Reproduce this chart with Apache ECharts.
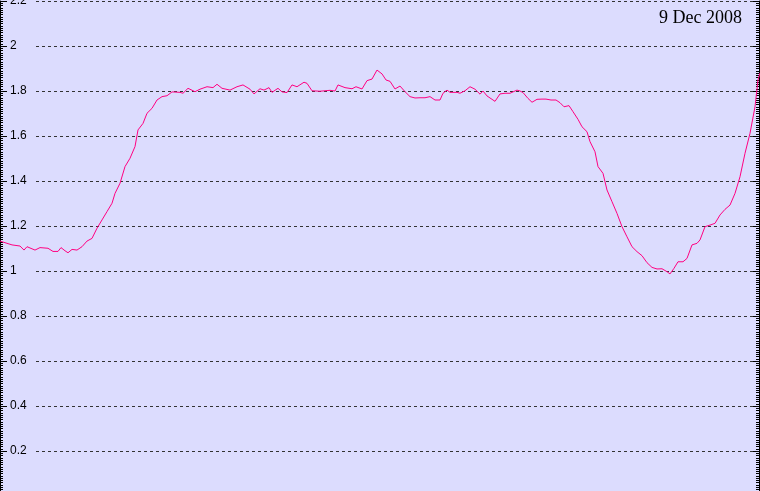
<!DOCTYPE html>
<html>
<head>
<meta charset="utf-8">
<script src="https://cdn.jsdelivr.net/npm/echarts@6/dist/echarts.min.js"></script>
<style>
html,body{margin:0;padding:0;overflow:hidden;background:#dcdcfe;}
#chart{width:760px;height:500px;}
</style>
</head>
<body>
<div id="chart"></div>
<script>
// sample index (time steps)
var times = [0,7,12,20,24,27,35,40,48,53,58,61,65,68,72,77,82,87,92,97,102,107,112,115,120,125,130,135,138,143,147,152,157,162,167,172,180,183,188,195,200,207,213,217,222,230,237,243,250,254,260,264,269,272,278,282,287,292,297,304,307,312,320,330,335,338,345,352,356,362,367,372,377,382,386,390,395,400,405,410,415,420,425,430,435,440,443,447,450,457,460,465,470,475,480,483,487,492,495,500,505,510,517,520,523,528,532,537,542,546,551,556,560,564,569,573,578,582,587,590,595,598,603,607,612,617,622,627,632,637,642,647,652,657,662,667,670,674,678,683,687,692,697,700,705,710,715,720,725,730,735,740,745,750,755,758,760];
var values = [1.133,1.123,1.116,1.111,1.093,1.108,1.093,1.104,1.101,1.087,1.087,1.104,1.090,1.081,1.096,1.093,1.108,1.133,1.145,1.190,1.227,1.264,1.301,1.345,1.390,1.464,1.501,1.553,1.627,1.656,1.701,1.723,1.760,1.775,1.779,1.796,1.794,1.790,1.812,1.797,1.808,1.819,1.815,1.830,1.812,1.804,1.819,1.827,1.808,1.787,1.810,1.804,1.815,1.794,1.812,1.796,1.793,1.827,1.819,1.839,1.834,1.801,1.799,1.803,1.800,1.827,1.815,1.810,1.819,1.809,1.846,1.853,1.893,1.876,1.849,1.843,1.809,1.822,1.797,1.775,1.769,1.770,1.770,1.775,1.760,1.760,1.790,1.804,1.794,1.794,1.790,1.801,1.819,1.808,1.786,1.800,1.778,1.763,1.754,1.787,1.790,1.790,1.804,1.800,1.793,1.767,1.750,1.763,1.764,1.764,1.760,1.760,1.748,1.730,1.735,1.708,1.674,1.641,1.619,1.575,1.530,1.464,1.434,1.360,1.308,1.256,1.197,1.152,1.108,1.086,1.068,1.037,1.016,1.009,1.010,0.997,0.987,1.012,1.041,1.041,1.056,1.116,1.123,1.138,1.197,1.204,1.212,1.249,1.274,1.293,1.345,1.419,1.523,1.612,1.730,1.849,1.880];
var yTicks = {min:0, max:2.2, step:0.2};
var titleText = '9 Dec 2008';

var seriesData = times.map(function(t,i){return [t, values[i]];});
var chart = echarts.init(document.getElementById('chart'));
chart.setOption({
  backgroundColor:'#dcdcfe',
  animation:false,
  title:{text:titleText, right:18, top:9, padding:0,
    textStyle:{fontFamily:'Liberation Serif', fontSize:18, fontWeight:'normal', color:'#000'}},
  grid:{left:0, right:1, top:1, bottom:4, containLabel:false, outerBoundsMode:'none'},
  xAxis:{type:'value', min:0, max:759, show:false},
  yAxis:[{
    type:'value', min:yTicks.min, max:yTicks.max, interval:yTicks.step, position:'left',
    axisLine:{show:true, lineStyle:{color:'#000', width:1}},
    axisTick:{show:true, inside:true, length:7, lineStyle:{color:'#000'}},
    minorTick:{show:true, splitNumber:20, length:3, lineStyle:{color:'#000'}},
    axisLabel:{inside:true, margin:7, padding:[0,0,0,3], width:24, align:'left',
      backgroundColor:'#dcdcfe', color:'#000', fontFamily:'Liberation Sans', fontSize:12, lineHeight:14,
      showMinLabel:false},
    splitLine:{show:true, lineStyle:{color:'#333', type:[3,3], width:1}},
    minorSplitLine:{show:false}
  },{
    type:'value', min:yTicks.min, max:yTicks.max, interval:yTicks.step, position:'right',
    axisLine:{show:true, lineStyle:{color:'#000', width:1}},
    axisTick:{show:true, inside:true, length:6, lineStyle:{color:'#000'}},
    minorTick:{show:true, splitNumber:20, length:3, lineStyle:{color:'#000'}},
    axisLabel:{show:false},
    splitLine:{show:false}
  }],
  series:[{
    type:'line', data:seriesData, showSymbol:false, symbol:'none', smooth:false,
    lineStyle:{color:'#ff0080', width:1}, yAxisIndex:0
  }]
});
</script>
</body>
</html>
